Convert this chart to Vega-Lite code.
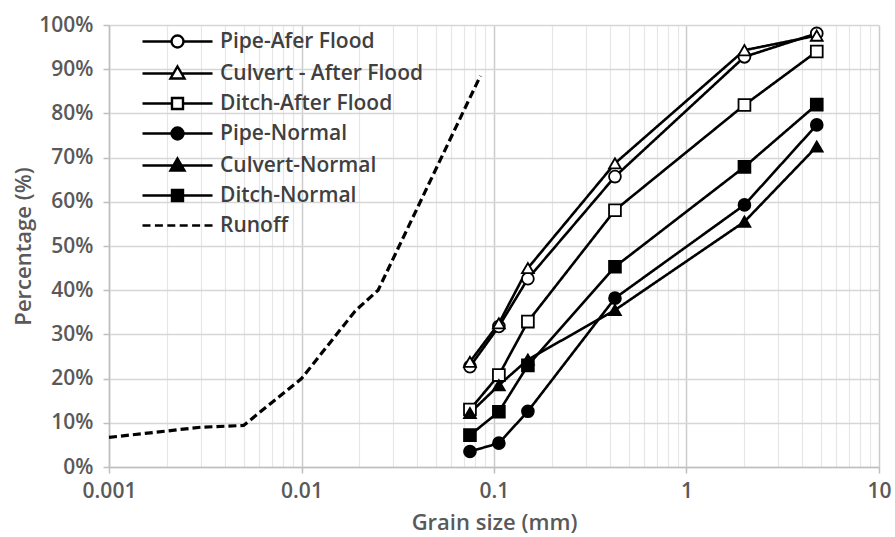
{
  "$schema": "https://vega.github.io/schema/vega-lite/v6.json",
  "width": 770,
  "height": 442,
  "autosize": {"type": "none"},
  "padding": {"left": 109, "top": 25, "right": 16, "bottom": 70},
  "background": "white",
  "config": {
    "view": {"stroke": null},
    "font": "Open Sans",
    "axis": {
      "labelFont": "Open Sans",
      "labelFontSize": 21,
      "labelFontWeight": 600,
      "labelColor": "#595959",
      "titleFont": "Open Sans",
      "titleFontSize": 22,
      "titleFontWeight": 600,
      "titleColor": "#595959",
      "domainColor": "#bfbfbf",
      "tickColor": "#bfbfbf",
      "domainWidth": 1.5,
      "tickWidth": 1.5
    }
  },
  "data": {
    "values": [
      {"series": "Pipe-Afer Flood", "x": 0.075, "y": 22.7},
      {"series": "Pipe-Afer Flood", "x": 0.106, "y": 31.8},
      {"series": "Pipe-Afer Flood", "x": 0.15, "y": 42.6},
      {"series": "Pipe-Afer Flood", "x": 0.425, "y": 65.7},
      {"series": "Pipe-Afer Flood", "x": 2, "y": 92.8},
      {"series": "Pipe-Afer Flood", "x": 4.75, "y": 98.1},
      {"series": "Culvert - After Flood", "x": 0.075, "y": 23.8},
      {"series": "Culvert - After Flood", "x": 0.106, "y": 32.5},
      {"series": "Culvert - After Flood", "x": 0.15, "y": 45},
      {"series": "Culvert - After Flood", "x": 0.425, "y": 68.7},
      {"series": "Culvert - After Flood", "x": 2, "y": 94.3},
      {"series": "Culvert - After Flood", "x": 4.75, "y": 97.6},
      {"series": "Ditch-After Flood", "x": 0.075, "y": 13},
      {"series": "Ditch-After Flood", "x": 0.106, "y": 20.8},
      {"series": "Ditch-After Flood", "x": 0.15, "y": 32.9},
      {"series": "Ditch-After Flood", "x": 0.425, "y": 58.1},
      {"series": "Ditch-After Flood", "x": 2, "y": 81.9},
      {"series": "Ditch-After Flood", "x": 4.75, "y": 94},
      {"series": "Pipe-Normal", "x": 0.075, "y": 3.5},
      {"series": "Pipe-Normal", "x": 0.106, "y": 5.4},
      {"series": "Pipe-Normal", "x": 0.15, "y": 12.6},
      {"series": "Pipe-Normal", "x": 0.425, "y": 38.2},
      {"series": "Pipe-Normal", "x": 2, "y": 59.3},
      {"series": "Pipe-Normal", "x": 4.75, "y": 77.4},
      {"series": "Culvert-Normal", "x": 0.075, "y": 12.2},
      {"series": "Culvert-Normal", "x": 0.106, "y": 18.5},
      {"series": "Culvert-Normal", "x": 0.15, "y": 24.3},
      {"series": "Culvert-Normal", "x": 0.425, "y": 35.5},
      {"series": "Culvert-Normal", "x": 2, "y": 55.5},
      {"series": "Culvert-Normal", "x": 4.75, "y": 72.5},
      {"series": "Ditch-Normal", "x": 0.075, "y": 7.2},
      {"series": "Ditch-Normal", "x": 0.106, "y": 12.5},
      {"series": "Ditch-Normal", "x": 0.15, "y": 23},
      {"series": "Ditch-Normal", "x": 0.425, "y": 45.3},
      {"series": "Ditch-Normal", "x": 2, "y": 67.9},
      {"series": "Ditch-Normal", "x": 4.75, "y": 82},
      {"series": "Runoff", "x": 0.001, "y": 6.7},
      {"series": "Runoff", "x": 0.003, "y": 9.0},
      {"series": "Runoff", "x": 0.005, "y": 9.4},
      {"series": "Runoff", "x": 0.01, "y": 20},
      {"series": "Runoff", "x": 0.019, "y": 35.3},
      {"series": "Runoff", "x": 0.025, "y": 40},
      {"series": "Runoff", "x": 0.085, "y": 88.5}
    ]
  },
  "encoding": {
    "x": {
      "field": "x",
      "type": "quantitative",
      "scale": {"type": "log", "domain": [0.001, 10], "nice": false},
      "axis": {
        "title": "Grain size (mm)",
        "values": [0.001, 0.002, 0.003, 0.004, 0.005, 0.006, 0.007, 0.008, 0.009, 0.01, 0.02, 0.03, 0.04, 0.05, 0.06, 0.07, 0.08, 0.09, 0.1, 0.2, 0.3, 0.4, 0.5, 0.6, 0.7, 0.8, 0.9, 1, 2, 3, 4, 5, 6, 7, 8, 9, 10],
        "format": "~g",
        "labelExpr": "indexof([0.001, 0.01, 0.1, 1, 10], datum.value) >= 0 ? datum.label : ''",
        "labelPadding": 7,
        "tickSize": 6,
        "tickOpacity": {"condition": {"test": "indexof([0.001, 0.01, 0.1, 1, 10], datum.value) >= 0", "value": 1}, "value": 0},
        "gridColor": {"condition": {"test": "indexof([0.001, 0.01, 0.1, 1, 10], datum.value) >= 0", "value": "#cccccc"}, "value": "#e6e6e6"},
        "gridWidth": {"condition": {"test": "indexof([0.001, 0.01, 0.1, 1, 10], datum.value) >= 0", "value": 1.5}, "value": 1.2},
        "titlePadding": 11,
        "labelFlush": false
      }
    },
    "y": {
      "field": "y",
      "type": "quantitative",
      "scale": {"domain": [0, 100], "nice": false},
      "axis": {
        "title": "Percentage (%)",
        "values": [0, 10, 20, 30, 40, 50, 60, 70, 80, 90, 100],
        "labelExpr": "datum.value + '%'",
        "tickSize": 6,
        "labelPadding": 10,
        "titlePadding": 3,
        "gridColor": "#d6d6d6",
        "gridWidth": 1.5
      }
    }
  },
  "layer": [
    {
      "mark": {"type": "line", "color": "black"},
      "encoding": {
        "detail": {"field": "series"},
        "strokeDash": {"condition": {"test": "datum.series === 'Runoff'", "value": [8, 4]}, "value": [1, 0]},
        "strokeWidth": {"condition": {"test": "datum.series === 'Runoff'", "value": 3.2}, "value": 2.6}
      }
    },
    {
      "transform": [{"filter": "datum.series !== 'Runoff'"}],
      "mark": {"type": "point", "filled": true, "stroke": "black", "strokeWidth": 1.8, "size": 140, "opacity": 1},
      "encoding": {
        "shape": {
          "field": "series",
          "scale": {
            "domain": ["Pipe-Afer Flood", "Culvert - After Flood", "Ditch-After Flood", "Pipe-Normal", "Culvert-Normal", "Ditch-Normal"],
            "range": ["circle", "triangle-up", "square", "circle", "triangle-up", "square"]
          },
          "legend": null
        },
        "fill": {
          "field": "series",
          "scale": {
            "domain": ["Pipe-Afer Flood", "Culvert - After Flood", "Ditch-After Flood", "Pipe-Normal", "Culvert-Normal", "Ditch-Normal"],
            "range": ["white", "white", "white", "black", "black", "black"]
          },
          "legend": null
        }
      }
    },
    {
      "mark": {"type": "point", "opacity": 0, "size": 400, "filled": true, "stroke": "black", "strokeWidth": 2.4},
      "encoding": {
        "fill": {
          "field": "series",
          "scale": {
            "domain": ["Pipe-Afer Flood", "Culvert - After Flood", "Ditch-After Flood", "Pipe-Normal", "Culvert-Normal", "Ditch-Normal", "Runoff"],
            "range": ["white", "white", "white", "black", "black", "black", "transparent"]
          },
          "legend": {
            "title": null,
            "orient": "none",
            "legendX": 57,
            "legendY": 5,
            "padding": 0,
            "rowPadding": 8,
            "labelOffset": 31,
            "symbolOffset": 0,
            "labelFont": "Open Sans",
            "labelFontSize": 21,
            "labelFontWeight": 600,
            "labelColor": "#404040",
            "labelLimit": 400,
            "symbolSize": 400,
            "symbolStrokeWidth": 2.4,
            "symbolStrokeColor": "black",
            "symbolOpacity": 1,
            "encode": {
              "symbols": {
                "update": {
                  "opacity": {"value": 1},
                  "stroke": {"value": "black"},
                  "strokeWidth": {"value": 2.4},
                  "size": {"value": 400}
                }
              }
            }
          }
        },
        "shape": {
          "field": "series",
          "scale": {
            "domain": ["Pipe-Afer Flood", "Culvert - After Flood", "Ditch-After Flood", "Pipe-Normal", "Culvert-Normal", "Ditch-Normal", "Runoff"],
            "range": [
              "M-3.5,0H-0.6M0.6,0H3.5M-0.6,0A0.6,0.6 0 1,0 0.6,0A0.6,0.6 0 1,0 -0.6,0Z",
              "M-3.5,0H-0.41M0.41,0H3.5M0,-0.7L0.7,0.5L-0.7,0.5Z",
              "M-3.5,0H-0.55M0.55,0H3.5M-0.55,-0.55H0.55V0.55H-0.55Z",
              "M-3.5,0H-0.6M0.6,0H3.5M-0.6,0A0.6,0.6 0 1,0 0.6,0A0.6,0.6 0 1,0 -0.6,0Z",
              "M-3.5,0H-0.41M0.41,0H3.5M0,-0.7L0.7,0.5L-0.7,0.5Z",
              "M-3.5,0H-0.55M0.55,0H3.5M-0.55,-0.55H0.55V0.55H-0.55Z",
              "M-3.5,0H-2.7M-2.26,0H-1.46M-1.02,0H-0.22M0.22,0H1.02M1.46,0H2.26M2.7,0H3.5"
            ]
          },
          "legend": {
            "title": null,
            "orient": "none",
            "legendX": 57,
            "legendY": 5,
            "padding": 0,
            "rowPadding": 8,
            "labelOffset": 31,
            "symbolOffset": 0,
            "labelFont": "Open Sans",
            "labelFontSize": 21,
            "labelFontWeight": 600,
            "labelColor": "#404040",
            "labelLimit": 400,
            "symbolSize": 400,
            "symbolStrokeWidth": 2.4,
            "symbolStrokeColor": "black",
            "symbolOpacity": 1,
            "encode": {
              "symbols": {
                "update": {
                  "opacity": {"value": 1},
                  "stroke": {"value": "black"},
                  "strokeWidth": {"value": 2.4},
                  "size": {"value": 400}
                }
              }
            }
          }
        }
      }
    }
  ],
  "resolve": {"scale": {"shape": "independent", "fill": "independent"}}
}
